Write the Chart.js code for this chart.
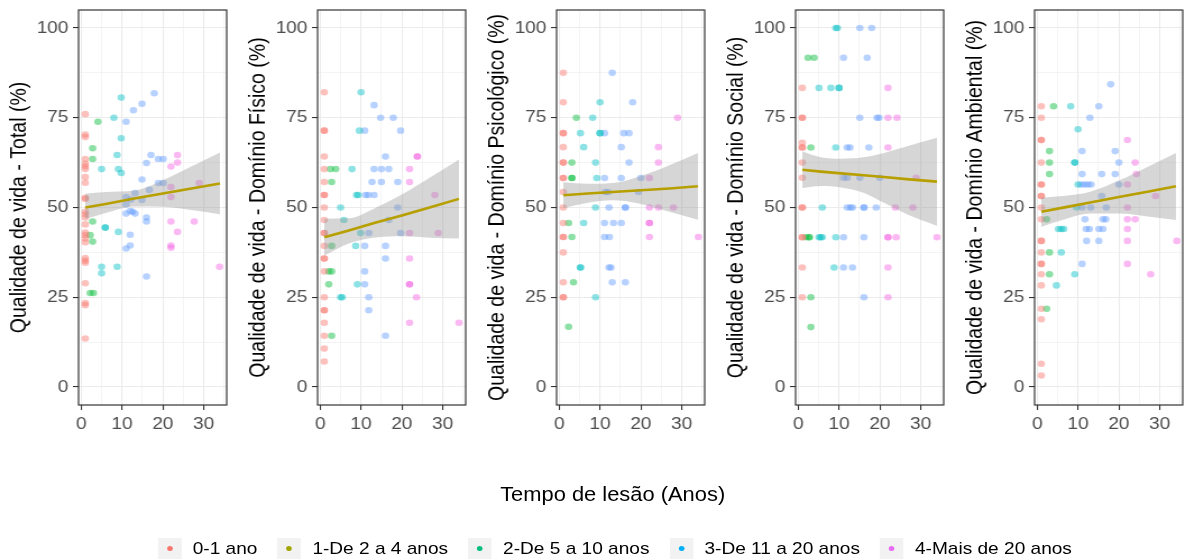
<!DOCTYPE html>
<html>
<head>
<meta charset="utf-8">
<script src="https://cdn.jsdelivr.net/npm/chart.js@4.4.1/dist/chart.umd.min.js"></script>
<style>
  html, body { margin: 0; padding: 0; background: #fff; }
  body { width: 1184px; height: 559px; overflow: hidden; font-family: "Liberation Sans", Arial, sans-serif; }
  #fig { position: absolute; left: 0; top: 0; width: 1056px; height: 559px; transform: scaleX(1.1221); transform-origin: 0 0; }
  #fig canvas { position: absolute; top: 0; }
  #xtitle { position: absolute; left: 0; width: 1092px; top: 483px; text-align: center; font-size: 19.5px; line-height: 22px; color: #000; }
  #legend { position: absolute; left: 0; width: 1096px; top: 538px; display: flex; justify-content: center; align-items: center; }
  .item { display: flex; align-items: center; margin: 0 9px; }
  .key { position: relative; width: 21px; height: 21px; background: #F2F2F2; }
  .key i { position: absolute; left: 8px; top: 8px; width: 5px; height: 5px; border-radius: 50%; }
  .lab { margin-left: 10px; font-size: 17px; color: #000; }
</style>
</head>
<body>
<div id="fig">
  <canvas id="p0" width="213" height="440" style="left:0px"></canvas>
  <canvas id="p1" width="213" height="440" style="left:213px"></canvas>
  <canvas id="p2" width="213" height="440" style="left:426px"></canvas>
  <canvas id="p3" width="213" height="440" style="left:639px"></canvas>
  <canvas id="p4" width="213" height="440" style="left:852px"></canvas>
  <div id="xtitle">Tempo de lesão (Anos)</div>
  <div id="legend"></div>
</div>
<script>
// groups of time since injury
const groups = ['0-1 ano', '1-De 2 a 4 anos', '2-De 5 a 10 anos', '3-De 11 a 20 anos', '4-Mais de 20 anos'];
const legendColors = ['#F8766D', '#A3A500', '#00BF7D', '#00B0F6', '#E76BF3'];
const pointColors = ['rgba(248,118,109,0.45)', 'rgba(0,186,56,0.45)', 'rgba(0,191,196,0.45)', 'rgba(97,156,255,0.45)', 'rgba(245,100,227,0.45)'];
const lineColor = '#B79F00';
const bandColor = 'rgba(153,153,153,0.4)';

const yTitles = [
  'Qualidade de vida - Total (%)',
  'Qualidade de vida - Domínio Físico (%)',
  'Qualidade de vida - Domínio Psicológico (%)',
  'Qualidade de vida - Domínio Social (%)',
  'Qualidade de vida - Domínio Ambiental (%)'
];

const xMajor = [0, 10, 20, 30];
const xMinor = [5, 15, 25, 35];
const yMajor = [0, 25, 50, 75, 100];
const yMinor = [12.5, 37.5, 62.5, 87.5];

// [anos, escore, grupo]
const total = [
  [1,76.0,0],[1,70.3,0],[1,69.6,0],[1,63.5,0],[1,62.2,0],[1,61.5,0],[1,60.7,0],[1,58.5,0],[1,56.9,0],[1,52.7,0],[1,52.4,0],
  [1,48.8,0],[1,48.1,0],[1,47.2,0],[1,45.3,0],[1,43.0,0],[1,42.3,0],[1,41.4,0],[1,40.3,0],[1,35.9,0],[1,35.2,0],[1,34.6,0],
  [1,28.9,0],[1,23.4,0],[1,22.8,0],[1,13.5,0],
  [4.1,73.9,1],[2.8,66.5,1],[2.8,63.5,1],[2.8,46.1,1],[2.2,42.3,1],[2.8,40.5,1],[2.2,26.2,1],[3.0,26.2,1],
  [9.8,80.6,2],[8,75.0,2],[9.8,69.3,2],[8.8,64.6,2],[5,60.7,2],[9.1,60.7,2],[9.8,59.6,2],[5.9,44.4,2],[5.9,44.4,2],
  [9.1,43.2,2],[5,33.5,2],[8.8,33.5,2],[5,31.7,2],
  [17.9,81.8,3],[14.9,78.9,3],[12.8,77.1,3],[11,73.9,3],[17.1,64.6,3],[18.9,63.5,3],[20.1,63.5,3],[16,62.4,3],[14.9,57.8,3],
  [18.9,56.8,3],[20.1,56.8,3],[16.7,54.9,3],[13.2,54.0,3],[11,52.9,3],[12.2,52.2,3],[14.9,52.1,3],[11,50.9,3],[12,49.0,3],
  [12.6,48.8,3],[11,48.3,3],[13.2,48.3,3],[16,47.2,3],[16,46.1,3],[12,42.4,3],[11,38.6,3],[12,39.4,3],[16,30.8,3],
  [23.6,64.6,4],[22,61.4,4],[23.6,62.5,4],[22,55.7,4],[28.9,56.8,4],[22,52.9,4],[22,46.1,4],[27.7,46.1,4],[23.6,43.2,4],
  [22,39.4,4],[22,38.8,4],[33.9,33.5,4]
];

const fisico = [
  [1,82.1,0],[1,71.4,0],[1,71.4,0],[1,64.2,0],[1,60.7,0],[1,57.1,0],[1,53.5,0],[1,53.5,0],[1,50.0,0],[1,46.5,0],[1,42.9,0],
  [1,42.9,0],[1,39.3,0],[1,35.8,0],[1,35.8,0],[1,32.2,0],[1,25.0,0],[1,21.4,0],[1,21.4,0],[1,17.9,0],[1,14.3,0],[1,10.7,0],[1,7.1,0],
  [2.5,60.7,1],[3.8,60.7,1],[2.8,57.1,1],[2.8,39.3,1],[2.1,32.2,1],[2.8,32.2,1],[2.1,28.6,1],[2.8,14.3,1],
  [10,82.1,2],[9.6,71.4,2],[7.8,60.7,2],[8.9,53.5,2],[9.3,53.5,2],[5,50.0,2],[5.8,46.5,2],[9.9,42.9,2],[8.7,39.3,2],
  [9.1,28.6,2],[5,25.0,2],[5.4,25.0,2],
  [13.2,78.5,3],[14.8,75.0,3],[17.9,75.0,3],[10.9,71.4,3],[19.7,71.4,3],[16,64.2,3],[13.2,60.7,3],[15,60.7,3],[16.8,60.7,3],
  [12.7,57.1,3],[15,57.1,3],[19,57.1,3],[11.1,53.5,3],[11.8,53.5,3],[13.2,53.5,3],[19,50.0,3],[16.8,46.5,3],[11.9,42.9,3],
  [19.7,42.9,3],[10.9,39.3,3],[16,39.3,3],[16,35.8,3],[10.9,32.2,3],[10.9,28.6,3],[11.9,25.0,3],[11.9,21.4,3],[16,14.3,3],
  [23.8,64.2,4],[23.8,64.2,4],[21.9,60.7,4],[21.9,57.1,4],[28.1,53.5,4],[21.9,42.9,4],[28.9,42.9,4],[21.9,35.8,4],
  [21.9,28.6,4],[21.9,28.6,4],[23.6,25.0,4],[21.9,17.9,4],[34,17.9,4]
];

const psico = [
  [1,87.5,0],[1,79.3,0],[1,70.7,0],[1,70.7,0],[1,66.8,0],[1,62.5,0],[1,62.5,0],[1,58.2,0],[1,58.2,0],[1,54.3,0],[1,50.0,0],
  [1,45.7,0],[1,41.8,0],[1,41.8,0],[1,37.5,0],[1,29.2,0],[1,25.0,0],[1,25.0,0],
  [4.2,75.0,1],[3.1,62.5,1],[3.1,58.2,1],[3.1,58.2,1],[2.3,45.7,1],[3.1,41.8,1],[3.5,29.2,1],[2.3,16.8,1],
  [10,79.3,2],[8.2,75.0,2],[5.2,70.7,2],[10,70.7,2],[10,70.7,2],[6,66.8,2],[8.9,62.5,2],[9.2,58.2,2],[8.9,50.0,2],
  [6,45.7,2],[5.2,33.3,2],[5.2,33.3,2],[8.9,25.0,2],
  [13,87.5,3],[18,79.3,3],[11.1,70.7,3],[15.8,70.7,3],[17.1,70.7,3],[15.2,66.8,3],[17.1,62.5,3],[11.1,58.2,3],[15.2,58.2,3],
  [20,58.2,3],[11.3,54.3,3],[12,54.3,3],[19.4,54.3,3],[12.2,50.0,3],[16.2,50.0,3],[16.2,50.0,3],[11.1,45.7,3],[13.3,45.7,3],
  [15.2,45.7,3],[11.1,41.8,3],[12.3,41.8,3],[12.2,33.3,3],[12.7,33.3,3],[13,29.2,3],[16.2,29.2,3],
  [29,75.0,4],[24.3,66.8,4],[24.3,62.5,4],[22.1,58.2,4],[22.1,50.0,4],[24.3,50.0,4],[28,50.0,4],[22.1,45.7,4],[22.1,45.7,4],
  [22.1,41.8,4],[34.1,41.8,4]
];

const social = [
  [1,83.3,0],[1,75.0,0],[1,75.0,0],[1,68.0,0],[1,66.7,0],[1,66.7,0],[1,62.5,0],[1,58.3,0],[1,50.0,0],[1,50.0,0],
  [1,41.7,0],[1,41.7,0],[1,33.3,0],[1,25.0,0],
  [2.4,91.7,1],[3.9,91.7,1],[3.1,66.7,1],[1.9,41.7,1],[2.7,41.7,1],[2.7,41.7,1],[3.1,25.0,1],[3.1,16.7,1],
  [9.2,100,2],[9.6,100,2],[5.1,83.3,2],[8,83.3,2],[10,83.3,2],[10,83.3,2],[9.2,66.7,2],[5.9,50,2],[5.1,41.7,2],
  [5.9,41.7,2],[5.5,41.7,2],[9.2,41.7,2],[8.8,33.3,2],
  [15.1,100,3],[18,100,3],[11.1,91.7,3],[16.9,91.7,3],[15.1,75,3],[19.3,75,3],[19.8,75,3],[12,66.7,3],[12.7,66.7,3],
  [17.3,66.7,3],[11.1,58.3,3],[12,58.3,3],[15.1,58.3,3],[20,58.3,3],[12,50,3],[12.8,50,3],[13.3,50,3],[16.1,50,3],
  [16.1,50,3],[19.1,50,3],[11.1,41.7,3],[16.1,41.7,3],[11.1,33.3,3],[13.3,33.3,3],[16.1,25,3],
  [22,83.3,4],[22,75,4],[24.2,75,4],[22,66.7,4],[28.9,58.3,4],[23.8,50,4],[28.1,50,4],[22,41.7,4],[22,41.7,4],
  [24,41.7,4],[34,41.7,4],[22,33.3,4],[22,25,4]
];

const ambiental = [
  [1,78.2,0],[1,75.0,0],[1,68.8,0],[1,68.8,0],[1,62.5,0],[1,56.4,0],[1,56.4,0],[1,53.2,0],[1,53.2,0],[1,50.0,0],[1,46.7,0],
  [1,40.7,0],[1,40.7,0],[1,37.5,0],[1,34.3,0],[1,34.3,0],[1,31.4,0],[1,28.3,0],[1,21.8,0],[1,18.9,0],[1,6.5,0],[1,3.2,0],
  [4,78.2,1],[3,65.7,1],[3,62.5,1],[3,59.3,1],[2.3,46.7,1],[3,37.5,1],[3,31.4,1],[2.3,21.8,1],
  [8.2,78.2,2],[10,71.8,2],[9.2,62.5,2],[9.2,62.5,2],[10,56.4,2],[9.6,50.0,2],[5.2,44.0,2],[5.9,44.0,2],[6.5,44.0,2],
  [5.9,37.5,2],[9.2,31.4,2],[4.7,28.3,2],
  [18,84.3,3],[15.1,78.2,3],[12.9,75.0,3],[11,65.7,3],[19.1,65.7,3],[20,62.5,3],[11,59.3,3],[15.8,59.3,3],[19.1,59.3,3],
  [10.8,56.4,3],[11.6,56.4,3],[12.4,56.4,3],[13.2,56.4,3],[20,56.4,3],[15.8,53.2,3],[11,50.0,3],[13.1,50.0,3],[16.9,50.0,3],
  [11.7,46.7,3],[16.1,46.7,3],[16.8,46.7,3],[12,44.0,3],[12.8,44.0,3],[15.1,44.0,3],[16.1,44.0,3],[12.1,40.7,3],
  [15.1,40.7,3],[11,34.3,3],
  [22.1,68.8,4],[24,62.5,4],[24.3,59.3,4],[22.1,56.4,4],[29,53.2,4],[22.1,50.0,4],[22.1,46.7,4],[24,46.7,4],[22.1,44.0,4],
  [22.1,40.7,4],[34.2,40.7,4],[22.1,34.3,4],[27.8,31.4,4]
];

// linear fit with 95% band: [anos, ajuste, inferior, superior]
const totalFit = [[1,50.0,46.8,53.8],[6,51.0,48.5,54.3],[13,52.5,50.3,54.7],[20,53.9,50.2,57.6],[27,55.3,49.3,61.4],[34,56.7,48.1,65.3]];
const fisicoFit = [[1,41.7,36.6,46.9],[7,43.6,40.0,47.0],[13,45.6,41.6,49.6],[20,47.8,42.0,53.6],[27,50.1,41.6,58.4],[34,52.4,41.4,63.4]];
const psicoFit = [[1,53.4,49.8,57.0],[7,53.9,51.3,56.6],[13,54.3,52.0,56.8],[20,54.8,51.0,58.8],[27,55.3,48.8,61.8],[34,55.9,46.6,65.2]];
const socialFit = [[1,60.5,55.4,65.6],[5.5,60.0,56.0,64.0],[10.5,59.5,55.6,63.6],[16,59.0,54.1,64.0],[21,58.5,51.3,65.2],[26.5,57.9,48.2,67.0],[34,57.2,44.9,69.4]];
const ambientalFit = [[1,48.8,44.6,52.8],[7,50.1,46.8,53.3],[13,51.4,48.3,54.4],[20,52.9,48.3,57.5],[27,54.4,47.5,61.3],[34,55.9,46.5,65.2]];

const panelData = [total, fisico, psico, social, ambiental];
const panelFits = [totalFit, fisicoFit, psicoFit, socialFit, ambientalFit];

const panelBorder = {
  id: 'panelBorder',
  afterDraw(chart) {
    const { ctx, chartArea: a } = chart;
    ctx.save();
    ctx.strokeStyle = '#333333';
    ctx.lineWidth = 1.2;
    ctx.strokeRect(a.left, a.top, a.right - a.left, a.bottom - a.top);
    ctx.restore();
  }
};

function axis(major, minor, min, max) {
  const isMajor = v => major.includes(v);
  return {
    type: 'linear',
    min: min,
    max: max,
    afterBuildTicks: s => { s.ticks = major.concat(minor).sort((a, b) => a - b).map(v => ({ value: v })); },
    border: { display: false },
    grid: {
      color: '#EBEBEB',
      lineWidth: c => (c.tick && isMajor(c.tick.value)) ? 1.1 : 0.55,
      tickLength: 5,
      tickWidth: 1.1,
      tickColor: c => (c.tick && isMajor(c.tick.value)) ? '#333333' : 'rgba(0,0,0,0)'
    },
    ticks: {
      autoSkip: false,
      maxRotation: 0,
      color: '#4D4D4D',
      font: { family: '"Liberation Sans", Arial, sans-serif', size: 17 },
      padding: 4,
      callback: v => isMajor(v) ? String(v) : ''
    }
  };
}

function makePanel(idx) {
  const points = panelData[idx];
  const fit = panelFits[idx];
  const sets = groups.map((g, i) => ({
    label: g,
    data: points.filter(p => p[2] === i).map(p => ({ x: p[0], y: p[1] })),
    backgroundColor: pointColors[i],
    borderWidth: 0,
    pointRadius: 3.3,
    order: 3
  }));
  const upper = sets.length;
  sets.push({
    type: 'line',
    data: fit.map(f => ({ x: f[0], y: f[3] })),
    borderWidth: 0,
    pointRadius: 0,
    backgroundColor: bandColor,
    fill: upper + 1,
    cubicInterpolationMode: 'monotone',
    order: 2
  });
  sets.push({
    type: 'line',
    data: fit.map(f => ({ x: f[0], y: f[2] })),
    borderWidth: 0,
    pointRadius: 0,
    fill: false,
    cubicInterpolationMode: 'monotone',
    order: 2
  });
  sets.push({
    type: 'line',
    data: fit.map(f => ({ x: f[0], y: f[1] })),
    borderColor: lineColor,
    borderWidth: 2.6,
    pointRadius: 0,
    fill: false,
    order: 0
  });

  const x = axis(xMajor, xMinor, -0.65, 35.65);
  x.afterFit = s => { s.height = 35; s.paddingLeft = 0; s.paddingRight = 0; };
  const y = axis(yMajor, yMinor, -5, 105);
  y.afterFit = s => { s.width = 70; s.paddingTop = 0; s.paddingBottom = 0; };
  y.title = {
    display: true,
    text: yTitles[idx],
    color: '#000',
    font: { family: '"Liberation Sans", Arial, sans-serif', size: 19.5 },
    padding: { top: 6, bottom: 0 }
  };

  new Chart(document.getElementById('p' + idx), {
    type: 'scatter',
    data: { datasets: sets },
    options: {
      responsive: false,
      animation: false,
      events: [],
      layout: { padding: { top: 10, right: 11, left: 0, bottom: 0 } },
      plugins: { legend: { display: false }, tooltip: { enabled: false } },
      scales: { x: x, y: y }
    },
    plugins: [panelBorder]
  });
}

document.addEventListener('DOMContentLoaded', function() {
  for (let i = 0; i < panelData.length; i++) makePanel(i);

  const legend = document.getElementById('legend');
  legend.innerHTML = groups.map((g, i) => `
    <div class="item">
      <span class="key"><i style="background:${legendColors[i]}"></i></span>
      <span class="lab">${g}</span>
    </div>`).join('');
});
</script>
</body>
</html>
